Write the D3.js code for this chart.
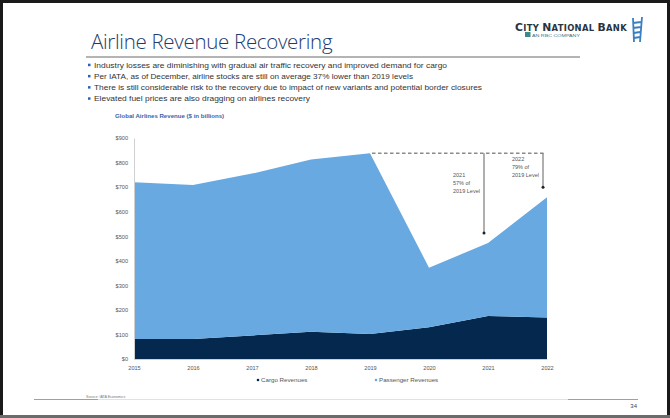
<!DOCTYPE html>
<html>
<head>
<meta charset="utf-8">
<script src="https://cdn.jsdelivr.net/npm/d3@7"></script>
<style>
  html, body { margin: 0; padding: 0; background: #fff; }
  svg { display: block; font-family: "Liberation Sans", Arial, sans-serif; }
</style>
</head>
<body>
<svg id="slide" width="670" height="418"></svg>
<script>
// Global airline revenue, $ billions
const years = [2015, 2016, 2017, 2018, 2019, 2020, 2021, 2022];
const cargoRevenues = [81, 81, 96, 111, 102, 129, 175, 169];
const passengerRevenues = [639, 628, 659, 701, 736, 243, 297, 490];
const yTicks = [0, 100, 200, 300, 400, 500, 600, 700, 800, 900];
const bullets = [
  "Industry losses are diminishing with gradual air traffic recovery and improved demand for cargo",
  "Per IATA, as of December, airline stocks are still on average 37% lower than 2019 levels",
  "There is still considerable risk to the recovery due to impact of new variants and potential border closures",
  "Elevated fuel prices are also dragging on airlines recovery"
];
const bulletWidths = [353, 319, 388, 216];
const notes = [
  { year: 2021, lines: ["2021", "57% of", "2019 Level"] },
  { year: 2022, lines: ["2022", "79% of", "2019 Level"] }
];

const svg = d3.select("#slide");
const navy = "#1d3c6e";

// slide frame
svg.append("rect").attr("x", 1.5).attr("y", 1.5).attr("width", 667).attr("height", 420)
  .attr("fill", "none").attr("stroke", "#1a1a1a").attr("stroke-width", 3);
svg.append("line").attr("x1", 0).attr("x2", 670).attr("y1", 416.5).attr("y2", 416.5)
  .attr("stroke", "#6b6b6b").attr("stroke-width", 3);

// title
svg.append("text").attr("x", 91).attr("y", 49).text("Airline Revenue Recovering")
  .attr("font-family", "'Open Sans', sans-serif").attr("font-weight", 300)
  .attr("font-size", 20.5).attr("fill", navy).attr("letter-spacing", -0.3);
svg.append("line").attr("x1", 86).attr("x2", 580).attr("y1", 57).attr("y2", 57)
  .attr("stroke", "#b4b4b4").attr("stroke-width", 2);

// logo: wordmark in large/small capitals
const logo = svg.append("g");
const word = logo.append("text").attr("x", 515).attr("y", 30.5)
  .attr("font-family", "'DejaVu Sans', sans-serif").attr("font-weight", "bold")
  .attr("fill", "#2a3440").attr("letter-spacing", 0.3);
[["C", 10.8], ["ITY ", 8.4], ["N", 10.8], ["ATIONAL ", 8.4], ["B", 10.8], ["ANK", 8.4]]
  .forEach(([t, s]) => word.append("tspan").attr("font-size", s).text(t));
logo.append("rect").attr("x", 525).attr("y", 32).attr("width", 5.5).attr("height", 5).attr("fill", "#3c8a8c");
logo.append("text").attr("x", 532).attr("y", 36.5).text("AN RBC COMPANY")
  .attr("font-size", 4).attr("fill", "#3c6f86")
  .attr("textLength", 48).attr("lengthAdjust", "spacingAndGlyphs");
logo.append("path").attr("d", "M633 18 L634 42 M642 17 L640 42 M633 23 L641 22 M633 28 L641 27 M634 33 L640 32 M634 38 L640 37")
  .attr("stroke", "#3a7fc1").attr("stroke-width", 1.8).attr("fill", "none");

// bullets
bullets.forEach((b, i) => {
  const y = 67.5 + i * 11.2;
  svg.append("rect").attr("x", 88).attr("y", y - 3.8).attr("width", 2.5).attr("height", 2.5).attr("fill", "#2a62b8");
  svg.append("text").attr("x", 94).attr("y", y).text(b)
    .attr("font-size", 7).attr("fill", "#333")
    .attr("textLength", bulletWidths[i]).attr("lengthAdjust", "spacingAndGlyphs");
});

// chart title
svg.append("text").attr("x", 115).attr("y", 117.5).text("Global Airlines Revenue ($ in billions)")
  .attr("font-size", 6.1).attr("font-weight", "bold").attr("fill", "#3a64a8");

// scales
const x = d3.scalePoint().domain(years).range([134, 547]);
const y = d3.scaleLinear().domain([0, 900]).range([359, 138]);

const rows = years.map((yr, i) => ({ year: yr, cargo: cargoRevenues[i], passenger: passengerRevenues[i] }));
const stack = d3.stack().keys(["cargo", "passenger"])(rows);
const fills = { cargo: "#05284f", passenger: "#67a9e0" };

const area = d3.area()
  .x(d => x(d.data.year))
  .y0(d => y(d[0]))
  .y1(d => y(d[1]));

svg.append("g").selectAll("path").data(stack).join("path")
  .attr("d", area).attr("fill", d => fills[d.key]);

// axes
const yAxis = svg.append("g").attr("transform", `translate(${x(years[0])},0)`)
  .call(d3.axisLeft(y).tickValues(yTicks).tickSize(0).tickPadding(6).tickFormat(d => "$" + d));
yAxis.select(".domain").attr("stroke", "#d0d0d0").attr("stroke-width", 1);
yAxis.selectAll("text").attr("font-size", 5.6).attr("fill", "#555").attr("font-family", "'Liberation Sans', sans-serif");

const xAxis = svg.append("g").attr("transform", `translate(0,${y(0)})`)
  .call(d3.axisBottom(x).tickSize(0).tickPadding(7).tickFormat(d3.format("d")));
xAxis.select(".domain").attr("stroke", "#d0d0d0");
xAxis.selectAll("text").attr("font-size", 5.6).attr("fill", "#555").attr("font-family", "'Liberation Sans', sans-serif");

// 2019 level reference
const totals = years.map((yr, i) => cargoRevenues[i] + passengerRevenues[i]);
const i2019 = years.indexOf(2019);
const refY = y(totals[i2019]);
svg.append("line").attr("x1", x(2019) + 2).attr("x2", x(2022) - 2).attr("y1", refY).attr("y2", refY)
  .attr("stroke", "#8a8a8a").attr("stroke-width", 1.6).attr("stroke-dasharray", "3.5,2.5");

// annotations
notes.forEach(n => {
  const i = years.indexOf(n.year);
  const ax = x(n.year) - 4;
  const endY = y(totals[i]) - 10;
  svg.append("line").attr("x1", ax).attr("x2", ax).attr("y1", refY).attr("y2", endY)
    .attr("stroke", "#6e6e6e").attr("stroke-width", 1.1);
  svg.append("circle").attr("cx", ax).attr("cy", endY).attr("r", 1.5).attr("fill", "#222");
  const top = n.year === 2021 ? 177 : 161;
  n.lines.forEach((t, k) => {
    svg.append("text").attr("x", ax - 31).attr("y", top + k * 8.2).text(t)
      .attr("font-size", 5.5).attr("fill", "#555");
  });
});

// legend
const legend = [
  { label: "Cargo Revenues", color: fills.cargo, x: 258 },
  { label: "Passenger Revenues", color: fills.passenger, x: 376 }
];
legend.forEach(l => {
  svg.append("circle").attr("cx", l.x).attr("cy", 380).attr("r", 1.3).attr("fill", l.color);
  svg.append("text").attr("x", l.x + 3).attr("y", 382).text(l.label)
    .attr("font-size", 6.2).attr("fill", "#555");
});

// footer
svg.append("text").attr("x", 86).attr("y", 398).text("Source: IATA Economics")
  .attr("font-size", 3.6).attr("fill", "#777");
svg.append("line").attr("x1", 34).attr("x2", 638).attr("y1", 399.5).attr("y2", 399.5)
  .attr("stroke", "#dadada").attr("stroke-width", 0.8);
svg.append("line").attr("x1", 34).attr("x2", 98).attr("y1", 399.5).attr("y2", 399.5)
  .attr("stroke", "#a0a0a0").attr("stroke-width", 1.2);
svg.append("line").attr("x1", 568).attr("x2", 638).attr("y1", 399.5).attr("y2", 399.5)
  .attr("stroke", "#a0a0a0").attr("stroke-width", 1.2);
svg.append("text").attr("x", 637).attr("y", 408).attr("text-anchor", "end").text("34")
  .attr("font-size", 6).attr("fill", "#444");
</script>
</body>
</html>
